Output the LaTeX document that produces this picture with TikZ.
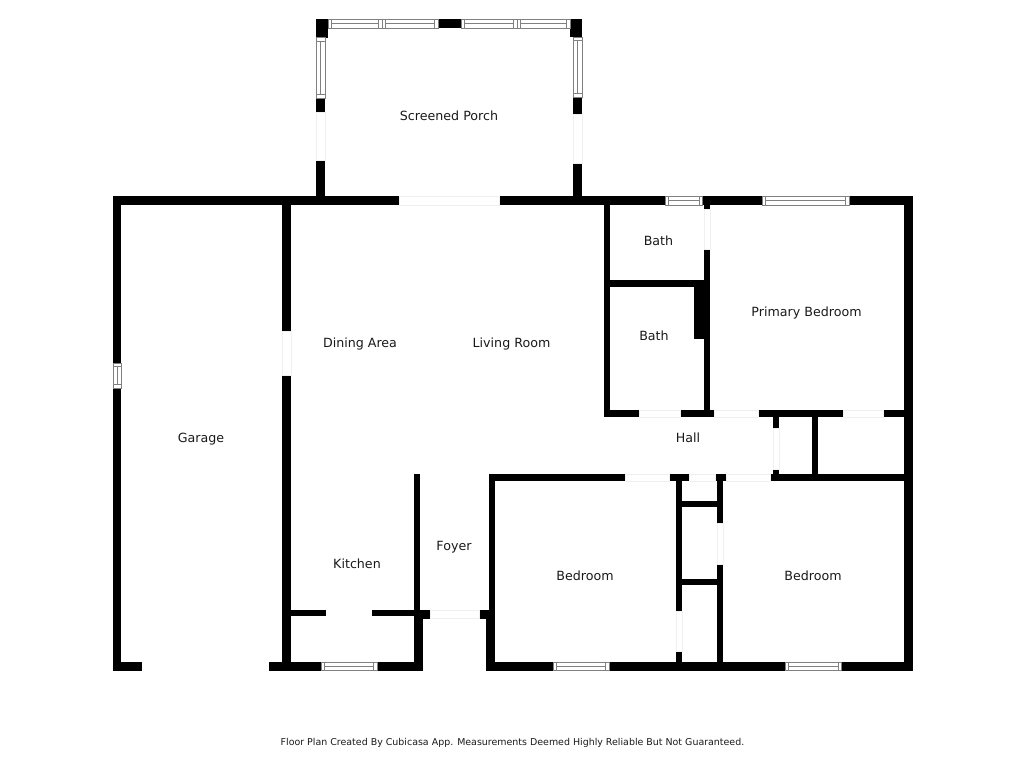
\documentclass[tikz,border=0pt]{standalone}
\usepackage{fontspec}
\setmainfont{DejaVu Sans}
\begin{document}
\begin{tikzpicture}
[x=0.02cm,y=-0.02cm,%
  walldecorate/.style={fill=black},%
  doordecorate/.style={fill=white,draw=black!6,line width=0.2pt},%
  windecorate/.style={fill=white,draw=black!50,line width=0.4pt},%
  roomdecorate/.style={inner sep=0pt,text height=6pt,text depth=0pt,font=\fontsize{7.2pt}{9pt}\selectfont,text=black!90},%
  notedecorate/.style={inner sep=0pt,text height=4.4pt,text depth=0pt,font=\fontsize{5.38pt}{7pt}\selectfont,text=black!90}]
\useasboundingbox (0,0) rectangle (1024,768);
%% walls
\foreach \xa/\ya/\xb/\yb in {316/19/328/38, 438/19/461/28, 570/19/582/37,
  316/98/325/112, 316/160/325/197, 573/97/582/114, 573/163/582/197,
  112.7/196/399/205, 499/196/912.7/205, 112.7/196/121.3/670.5, 904/196/912.7/670.5,
  281.7/205/290.7/331, 281.7/375.3/290.7/670.5,
  112.7/662/142/670.5, 268.7/662/321.3/670.5, 377.3/662/422.7/670.5,
  486/662/553.3/670.5, 609/662/785.3/670.5, 841.7/662/904/670.5,
  603.7/205/609.7/416.7, 609.7/280.3/704/286.7, 693.7/286.7/704/338.7,
  703.7/205/709.7/209, 703.7/249/709.7/416.7,
  603.7/410.3/639.3/416.7, 679.7/410.3/714/416.7, 758/410.3/842.7/416.7, 883.3/410.3/904/416.7,
  772.7/416/778.7/428.3, 772.7/469/778.7/475, 812.3/416/818.3/475,
  488.7/474.3/625/480.7, 669/474.3/689/480.7, 715.3/474.3/726.3/480.7, 770.3/474.3/904/480.7,
  676.3/480/682.3/610.7, 676.3/650.7/682.3/663, 716.7/480/722.7/523.3, 716.7/564/722.7/663,
  682/501.3/717/507.3, 682/579.3/717/585.3,
  413.7/474.3/420/618, 413.7/618/422.7/663, 290/609.7/325.7/615.7, 371.7/609.7/414/615.7,
  413.7/609.7/430.3/618.7, 478.7/609.7/494.7/618.7,
  488.7/474.3/494.7/610, 486/618/494.7/663} {
  \fill[walldecorate] (\xa,\ya) rectangle (\xb,\yb);
}
%% door openings
\foreach \xa/\ya/\xb/\yb in {316.5/112/325/160, 573.5/114/582/163, 399/196.5/499/205,
  282/331/290.7/375.3, 704/209/709.7/249, 639.3/410.5/679.7/416.7, 714/410.5/758/416.7,
  842.7/410.5/883.3/416.7, 773/428.3/778.7/469, 625/474.5/669/480.7, 689/474.5/715.3/480.7,
  726.3/474.5/770.3/480.7, 676.5/610.7/682.3/650.7, 717/523.3/722.7/564, 430.3/610/478.7/618.5} {
  \path[doordecorate] (\xa,\ya) rectangle (\xb,\yb);
}
%% windows lying flat
\foreach \xa/\xb/\ya/\yb in {328/382/19.5/28, 382/438/19.5/28, 461/517/19.5/28, 517/570/19.5/28,
  665/702.7/196.5/205, 762/849/196.5/205, 321.3/377.3/662/670.5, 553.3/609/662/670.5, 785.3/841.7/662/670.5} {
  \path[windecorate] (\xa,\ya) rectangle (\xb,\yb);
  \draw[windecorate] (\xa+3.5,\ya) -- (\xa+3.5,\yb) (\xb-3.5,\ya) -- (\xb-3.5,\yb);
  \draw[windecorate] (\xa+3.5,\ya+4.2) -- (\xb-3.5,\ya+4.2);
}
%% windows standing upright
\foreach \xa/\xb/\ya/\yb in {316.5/325/37.5/98, 573.5/582/37/97, 113/121.3/363/388} {
  \path[windecorate] (\xa,\ya) rectangle (\xb,\yb);
  \draw[windecorate] (\xa,\ya+3.5) -- (\xb,\ya+3.5) (\xa,\yb-3.5) -- (\xb,\yb-3.5);
  \draw[windecorate] (\xa+4.2,\ya+3.5) -- (\xa+4.2,\yb-3.5);
}
%% room names
\foreach \nodename/\x/\y/\roomname in {porch/449/115.7/Screened Porch,
  bathone/658.5/240/Bath, primary/806.5/311/Primary Bedroom, bathtwo/654/335.7/Bath,
  dining/360/342.5/Dining Area, living/511.5/342.5/Living Room, hall/688/437/Hall,
  garage/201/437/Garage, foyer/454/545.3/Foyer, kitchen/357/563.2/Kitchen,
  bedone/585/575/Bedroom, bedtwo/813/575/Bedroom} {
  \node (\nodename) at (\x,\y) [roomdecorate] {\roomname};
}
\node (note) at (512.5,741.5) [notedecorate] {Floor Plan Created By Cubicasa App. Measurements Deemed Highly Reliable But Not Guaranteed.};
\end{tikzpicture}
\end{document}
